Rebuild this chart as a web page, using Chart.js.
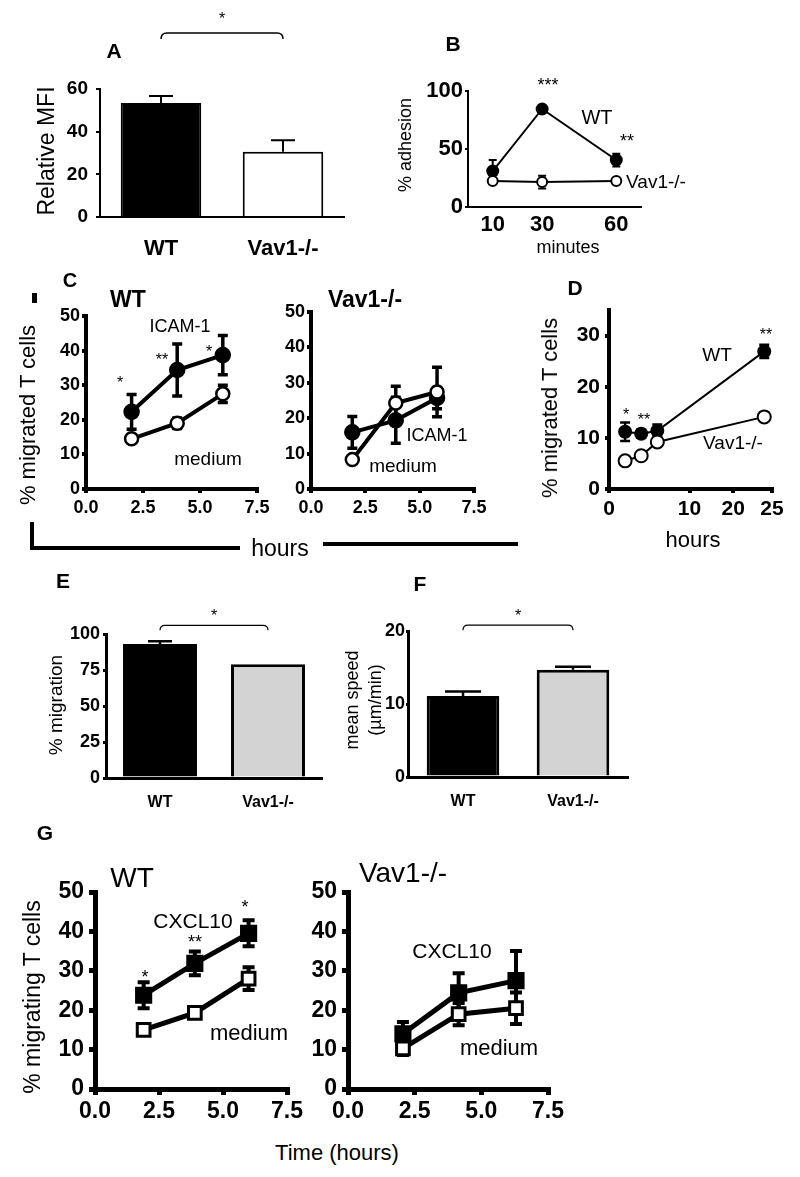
<!DOCTYPE html>
<html>
<head>
<meta charset="utf-8">
<script src="https://cdn.jsdelivr.net/npm/chart.js@4"></script>
<style>
  body { margin: 0; background: #fff; width: 800px; height: 1177px; position: relative; overflow: hidden;
         font-family: 'Liberation Sans', Arial, sans-serif; color: #000; }
  canvas { position: absolute; }
  .t { position: absolute; transform: translate(-50%, -50%); white-space: nowrap; line-height: 1; }
  .r { transform: translate(-50%, -50%) rotate(-90deg); }
  .b { font-weight: bold; }
  .ln { position: absolute; background: #000; }
</style>
</head>
<body>
<canvas id="cA" width="360" height="260" style="left:0;top:0"></canvas>
<canvas id="cB" width="400" height="260" style="left:400px;top:0"></canvas>
<canvas id="cC1" width="280" height="260" style="left:0;top:270px"></canvas>
<canvas id="cC2" width="270" height="260" style="left:270px;top:270px"></canvas>
<canvas id="cD" width="260" height="260" style="left:540px;top:270px"></canvas>
<canvas id="cE" width="380" height="230" style="left:0;top:590px"></canvas>
<canvas id="cF" width="320" height="230" style="left:340px;top:590px"></canvas>
<canvas id="cG1" width="320" height="290" style="left:0;top:850px"></canvas>
<canvas id="cG2" width="290" height="290" style="left:310px;top:850px"></canvas>

<!-- A -->
<div class="t b" style="left:114px;top:50px;font-size:21px">A</div>
<div class="t r" style="left:46px;top:151px;font-size:23px">Relative MFI</div>
<!-- B -->
<div class="t b" style="left:453px;top:43px;font-size:21px">B</div>
<div class="t r" style="left:405px;top:145px;font-size:18px">% adhesion</div>
<div class="t" style="left:548px;top:85px;font-size:18px">***</div>
<div class="t" style="left:627px;top:141px;font-size:18px">**</div>
<div class="t" style="left:597px;top:117px;font-size:20px">WT</div>
<div class="t" style="left:656px;top:181px;font-size:19px">Vav1-/-</div>
<div class="t" style="left:568px;top:247px;font-size:18px">minutes</div>
<!-- C -->
<div class="t b" style="left:70px;top:280px;font-size:20px">C</div>
<div class="ln" style="left:32px;top:293px;width:5px;height:10px"></div>
<div class="t b" style="left:128px;top:299px;font-size:23px">WT</div>
<div class="t b" style="left:365px;top:299px;font-size:23px">Vav1-/-</div>
<div class="t r" style="left:28px;top:415px;font-size:22px">% migrated T cells</div>
<div class="t" style="left:180px;top:326px;font-size:18px">ICAM-1</div>
<div class="t" style="left:208px;top:458px;font-size:19px">medium</div>
<div class="t" style="left:120px;top:383px;font-size:16px">*</div>
<div class="t" style="left:162px;top:360px;font-size:16px">**</div>
<div class="t" style="left:209px;top:352px;font-size:16px">*</div>
<div class="t" style="left:437px;top:435px;font-size:18px">ICAM-1</div>
<div class="t" style="left:403px;top:465px;font-size:19px">medium</div>
<div class="ln" style="left:30px;top:522px;width:4px;height:28px"></div>
<div class="ln" style="left:30px;top:546px;width:210px;height:4px"></div>
<div class="t" style="left:280px;top:548px;font-size:23px">hours</div>
<div class="ln" style="left:323px;top:542px;width:195px;height:4px"></div>
<!-- D -->
<div class="t b" style="left:575px;top:287px;font-size:21px">D</div>
<div class="t r" style="left:550px;top:408px;font-size:22px">% migrated T cells</div>
<div class="t" style="left:717px;top:354px;font-size:19px">WT</div>
<div class="t" style="left:766px;top:335px;font-size:16px">**</div>
<div class="t" style="left:626px;top:415px;font-size:16px">*</div>
<div class="t" style="left:644px;top:420px;font-size:16px">**</div>
<div class="t" style="left:733px;top:442px;font-size:19px">Vav1-/-</div>
<div class="t" style="left:693px;top:540px;font-size:22px">hours</div>
<!-- E / F -->
<div class="t b" style="left:63px;top:580px;font-size:21px">E</div>
<div class="t r" style="left:55px;top:705px;font-size:19px">% migration</div>
<div class="t b" style="left:420px;top:583px;font-size:21px">F</div>
<div class="t r" style="left:352px;top:700px;font-size:18px">mean speed</div>
<div class="t r" style="left:375px;top:700px;font-size:18px">(µm/min)</div>
<!-- G -->
<div class="t b" style="left:45px;top:832px;font-size:21px">G</div>
<div class="t" style="left:132px;top:878px;font-size:28px">WT</div>
<div class="t" style="left:403px;top:873px;font-size:28px">Vav1-/-</div>
<div class="t r" style="left:32px;top:997px;font-size:23px">% migrating T cells</div>
<div class="t" style="left:193px;top:920px;font-size:21px">CXCL10</div>
<div class="t" style="left:249px;top:1033px;font-size:22px">medium</div>
<div class="t" style="left:145px;top:977px;font-size:18px">*</div>
<div class="t" style="left:195px;top:942px;font-size:18px">**</div>
<div class="t" style="left:245px;top:907px;font-size:18px">*</div>
<div class="t" style="left:452px;top:950px;font-size:21px">CXCL10</div>
<div class="t" style="left:499px;top:1048px;font-size:22px">medium</div>
<div class="t" style="left:337px;top:1153px;font-size:22px">Time (hours)</div>

<script>
// ---- A: relative MFI
const groups = ['WT', 'Vav1-/-'];
const mfi = [53.4, 30.6];
const mfiErr = [3.3, 5.4];
const ticksA = [0, 20, 40, 60];

// ---- B: adhesion (minutes)
const minutes = [10, 30, 60];
const adhWT = [31, 84.5, 40.5];
const adhWTErr = [9.5, 0, 5.5];
const adhVav = [22.4, 21.5, 22.5];
const adhVavErr = [0, 5.5, 2];
const ticksB = [0, 50, 100];
const minuteTicks = [10, 30, 60];

// ---- C: migration on ICAM-1 (hours)
const hoursC = [2, 4, 6];
const icamWT = [22.3, 34.4, 38.7];
const icamWTErr = [5, 7.5, 5.7];
const medWT = [14.5, 19, 27.5];
const medWTErr = [0.5, 1.5, 2.5];
const hoursCV = [1.9, 3.9, 5.8];
const icamVav = [16, 19.4, 25.7];
const icamVavErr = [4.5, 6.5, 3];
const medVav = [8.3, 24.3, 27.4];
const medVavErr = [0.5, 4.7, 7];
const ticksC = [0, 10, 20, 30, 40, 50];
const hourTicks = [0, 2.5, 5, 7.5];

// ---- D: migration over 24 h
const hoursD = [2, 4, 6, 24];
const migWT = [11.2, 10.8, 11.4, 26.9];
const migWTErr = [1.8, 0.8, 1.2, 1.3];
const migVav = [5.5, 6.5, 9.2, 14.1];
const migVavErr = [0.3, 0.3, 0.3, 0.8];
const ticksD = [0, 10, 20, 30];
const hourTicksD = [0, 10, 20, 25];

// ---- E / F
const migration = [93, 79];
const migrationErr = [2, 0];
const ticksE = [0, 25, 50, 75, 100];
const speed = [11.1, 14.7];
const speedErr = [0.6, 0.4];
const ticksF = [0, 10, 20];

// ---- G: CXCL10
const hoursG = [1.9, 3.9, 6.0];
const cxclWT = [23.8, 31.9, 39.5];
const cxclWTErr = [3.3, 3, 3.3];
const medGWT = [15, 19.3, 28];
const medGWTErr = [0.5, 1, 2.9];
const hoursGV = [2.06, 4.15, 6.3];
const cxclVav = [14, 24.4, 27.5];
const cxclVavErr = [3, 5, 7.5];
const medGVav = [10.3, 19, 20.5];
const medGVavErr = [1.7, 2.8, 4];
const ticksG = [0, 10, 20, 30, 40, 50];

Chart.defaults.font.family = "'Liberation Sans', Arial, sans-serif";
Chart.defaults.color = '#000';
Chart.defaults.animation = false;
Chart.defaults.events = [];
Chart.defaults.plugins.legend.display = false;
Chart.defaults.plugins.tooltip.enabled = false;

// broken x axis for panel D (0-10 wide, 10-20 squeezed)
const BREAK_X = [0, 10, 20, 25];
const BREAK_F = [0, 0.494, 0.762, 1];
class BrokenScale extends Chart.LinearScale {
  getPixelForValue(v) {
    let i = 1;
    while (i < BREAK_X.length - 1 && v > BREAK_X[i]) i++;
    const f = BREAK_F[i - 1] + (v - BREAK_X[i - 1]) / (BREAK_X[i] - BREAK_X[i - 1]) * (BREAK_F[i] - BREAK_F[i - 1]);
    return this.getPixelForDecimal(f);
  }
}
BrokenScale.id = 'broken';
BrokenScale.defaults = Chart.LinearScale.defaults;
Chart.register(BrokenScale);

const errorBars = {
  id: 'errorBars',
  beforeDatasetsDraw(chart) {
    const ctx = chart.ctx;
    chart.data.datasets.forEach((ds, i) => {
      if (!ds.errors) return;
      const meta = chart.getDatasetMeta(i);
      const ys = chart.scales[meta.yAxisID];
      ctx.save();
      ctx.strokeStyle = '#000';
      ctx.lineWidth = ds.errWidth || 2;
      meta.data.forEach((el, j) => {
        const e = ds.errors[j];
        if (!e) return;
        const v = ds.data[j];
        const y = typeof v === 'object' ? v.y : v;
        const cap = ds.errCap || 6;
        const top = ys.getPixelForValue(y + e);
        const bot = ds.errUp ? el.y : ys.getPixelForValue(y - e);
        ctx.beginPath();
        ctx.moveTo(el.x, top); ctx.lineTo(el.x, bot);
        ctx.moveTo(el.x - cap, top); ctx.lineTo(el.x + cap, top);
        if (!ds.errUp) { ctx.moveTo(el.x - cap, bot); ctx.lineTo(el.x + cap, bot); }
        ctx.stroke();
      });
      ctx.restore();
    });
  }
};

const bracket = {
  id: 'bracket',
  afterDatasetsDraw(chart, args, opts) {
    if (!opts || opts.y === undefined) return;
    const meta = chart.getDatasetMeta(0);
    const x1 = meta.data[opts.from].x, x2 = meta.data[opts.to].x;
    const y = chart.scales.y.getPixelForValue(opts.y);
    const d = opts.drop || 6;
    const ctx = chart.ctx;
    ctx.save();
    ctx.strokeStyle = '#000';
    ctx.lineWidth = opts.width || 1.5;
    ctx.beginPath();
    ctx.moveTo(x1, y + d);
    ctx.quadraticCurveTo(x1, y, x1 + d, y);
    ctx.lineTo(x2 - d, y);
    ctx.quadraticCurveTo(x2, y, x2, y + d);
    ctx.stroke();
    ctx.fillStyle = '#000';
    ctx.font = opts.font || "16px 'Liberation Sans', Arial, sans-serif";
    ctx.textAlign = 'center';
    ctx.textBaseline = 'middle';
    ctx.fillText(opts.label || '*', (x1 + x2) / 2, y - (opts.labelGap || 12));
    ctx.restore();
  }
};

function yScale(ticks, max, o) {
  return {
    min: 0, max: max,
    afterBuildTicks: s => { s.ticks = ticks.map(v => ({ value: v })); },
    afterFit: s => { s.width = o.w; },
    border: { color: '#000', width: o.bw },
    grid: { drawOnChartArea: false, color: '#000', lineWidth: o.bw, tickLength: o.tl, tickWidth: o.bw },
    ticks: { font: { size: o.fs, weight: 'bold' }, padding: o.pad, color: '#000' }
  };
}

function xScale(ticks, min, max, o) {
  return {
    type: o.type || 'linear', min: min, max: max,
    afterBuildTicks: s => { s.ticks = ticks.map(v => ({ value: v })); },
    afterFit: s => { s.height = o.h; },
    border: { color: '#000', width: o.bw },
    grid: { display: o.tl > 0, drawOnChartArea: false, color: '#000', lineWidth: o.bw, tickLength: o.tl, tickWidth: o.bw },
    ticks: { font: { size: o.fs, weight: 'bold' }, padding: o.pad, color: '#000', maxRotation: 0,
             callback: o.fmt || (v => String(v)) }
  };
}

function catScale(o) {
  return {
    type: 'category',
    afterFit: s => { s.height = o.h; },
    border: { color: '#000', width: o.bw },
    grid: { display: false },
    ticks: { font: { size: o.fs, weight: 'bold' }, padding: o.pad, color: '#000' }
  };
}

function series(xs, ys, errs, filled, o) {
  return {
    data: xs.map((x, i) => ({ x: x, y: ys[i] })),
    errors: errs,
    borderColor: '#000', borderWidth: o.lw,
    pointStyle: o.style || 'circle',
    pointRadius: filled ? o.r : (o.ro || o.r),
    pointBackgroundColor: filled ? '#000' : '#fff',
    pointBorderColor: '#000', pointBorderWidth: o.pbw,
    errWidth: o.ew, errCap: o.cap,
    tension: 0, clip: false
  };
}

function makeChart(id, type, labels, datasets, scales, pad, pluginOpts) {
  return new Chart(document.getElementById(id), {
    type: type,
    data: { labels: labels, datasets: datasets },
    options: { responsive: false, layout: { padding: pad }, scales: scales, plugins: pluginOpts || {} },
    plugins: [errorBars, bracket]
  });
}

const fix1 = v => v.toFixed(1);

// A
makeChart('cA', 'bar', groups, [{
  data: mfi, errors: mfiErr, errUp: true, errWidth: 2, errCap: 12,
  backgroundColor: ['#000', '#fff'], borderColor: '#000', borderWidth: 2,
  barPercentage: 0.66, categoryPercentage: 1
}], {
  x: catScale({ h: 43, bw: 2, fs: 22, pad: 11 }),
  y: yScale(ticksA, 60, { w: 100, bw: 2, tl: 4, fs: 19, pad: 8 })
}, { left: 0, top: 89, right: 16, bottom: 0 },
{ bracket: { from: 0, to: 1, y: 86.3, drop: 6, label: '*', labelGap: 13 } });

// B
const bOpt = { lw: 2, r: 5.5, ro: 5, pbw: 2, ew: 2, cap: 4 };
makeChart('cB', 'line', null, [
  series(minutes, adhVav, adhVavErr, false, bOpt),
  series(minutes, adhWT, adhWTErr, true, bOpt)
], {
  x: xScale(minuteTicks, 0, 70, { h: 53, bw: 2, tl: 0, fs: 22, pad: 5 }),
  y: yScale(ticksB, 100, { w: 68, bw: 2, tl: 3, fs: 22, pad: 2 })
}, { left: 0, top: 91, right: 159, bottom: 0 });

// C WT / Vav
const cOpt = { lw: 4, r: 7, ro: 6.5, pbw: 2.5, ew: 3.5, cap: 5 };
const cY = o => yScale(ticksC, 50, Object.assign({ bw: 4, tl: 4, fs: 18, pad: 2 }, o));
const cX = () => xScale(hourTicks, 0, 7.5, { h: 41, bw: 4, tl: 4, fs: 18, pad: 4, fmt: fix1 });
makeChart('cC1', 'line', null, [
  series(hoursC, medWT, medWTErr, false, cOpt),
  series(hoursC, icamWT, icamWTErr, true, cOpt)
], { x: cX(), y: cY({ w: 86 }) }, { left: 0, top: 46, right: 23, bottom: 0 });
makeChart('cC2', 'line', null, [
  series(hoursCV, medVav, medVavErr, false, cOpt),
  series(hoursCV, icamVav, icamVavErr, true, cOpt)
], { x: cX(), y: cY({ w: 41 }) }, { left: 0, top: 42, right: 66, bottom: 0 });

// D
const dOpt = { lw: 2, r: 6, ro: 6.5, pbw: 2, ew: 2.5, cap: 5 };
makeChart('cD', 'line', null, [
  series(hoursD, migVav, migVavErr, false, dOpt),
  series(hoursD, migWT, migWTErr, true, dOpt)
], {
  x: xScale(hourTicksD, 0, 25, { type: 'broken', h: 41, bw: 4, tl: 4, fs: 21, pad: 4 }),
  y: yScale(ticksD, 35, { w: 69, bw: 4, tl: 4, fs: 21, pad: 5 })
}, { left: 0, top: 40, right: 28, bottom: 0 });

// E
makeChart('cE', 'bar', groups, [{
  data: migration, errors: migrationErr, errUp: true, errWidth: 2.5, errCap: 12,
  backgroundColor: ['#000', '#d3d3d3'], borderColor: '#000', borderWidth: 3,
  barPercentage: 0.685, categoryPercentage: 1
}], {
  x: catScale({ h: 42, bw: 3, fs: 16, pad: 7 }),
  y: yScale(ticksE, 100, { w: 106, bw: 3, tl: 3, fs: 18, pad: 3 })
}, { left: 0, top: 44, right: 58, bottom: 0 },
{ bracket: { from: 0, to: 1, y: 106, drop: 5, label: '*', labelGap: 9, width: 1.2 } });

// F
makeChart('cF', 'bar', groups, [{
  data: speed, errors: speedErr, errUp: true, errWidth: 2.5, errCap: 18,
  backgroundColor: ['#000', '#d3d3d3'], borderColor: '#000', borderWidth: 3,
  barPercentage: 0.66, categoryPercentage: 1
}], {
  x: catScale({ h: 43, bw: 3, fs: 16, pad: 7 }),
  y: yScale(ticksF, 20, { w: 68, bw: 3, tl: 2, fs: 18, pad: 1 })
}, { left: 0, top: 41, right: 32, bottom: 0 },
{ bracket: { from: 0, to: 1, y: 20.8, drop: 5, label: '*', labelGap: 9, width: 1.2 } });

// G WT / Vav
const gOpt = { lw: 5, r: 10, ro: 9, pbw: 3, ew: 4, cap: 6, style: 'rect' };
const gY = o => yScale(ticksG, 50, Object.assign({ bw: 5, tl: 6, fs: 23, pad: 5 }, o));
const gX = () => xScale(hourTicks, 0, 7.5, { h: 51, bw: 5, tl: 6, fs: 23, pad: 3, fmt: fix1 });
makeChart('cG1', 'line', null, [
  series(hoursG, medGWT, medGWTErr, false, gOpt),
  series(hoursG, cxclWT, cxclWTErr, true, gOpt)
], { x: gX(), y: gY({ w: 95 }) }, { left: 0, top: 42, right: 33, bottom: 0 });
makeChart('cG2', 'line', null, [
  series(hoursGV, medGVav, medGVavErr, false, gOpt),
  series(hoursGV, cxclVav, cxclVavErr, true, gOpt)
], { x: gX(), y: gY({ w: 38 }) }, { left: 0, top: 42, right: 52, bottom: 0 });
</script>
</body>
</html>
